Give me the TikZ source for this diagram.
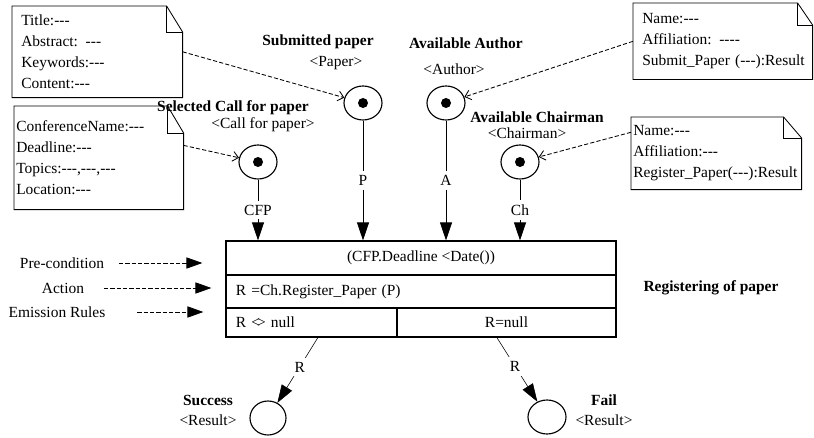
\documentclass[tikz,border=0pt]{standalone}
\usepackage{fontspec}
\setmainfont{Liberation Serif}[Ligatures=TeXOff]
\usetikzlibrary{arrows.meta,shapes.geometric}

\newcommand{\dogear}[3]{%
  \draw[line width=0.6pt] (#1.north west) -- ([xshift=-#2]#1.north east) -- ([yshift=-#3]#1.north east) -- (#1.south east) -- (#1.south west) -- cycle;
  \draw[line width=0.6pt] ([xshift=-#2]#1.north east) |- ([yshift=-#3]#1.north east);
}

\begin{document}
\begin{tikzpicture}[
    x=0.025cm, y=-0.025cm,
    font=\fontsize{11}{15}\selectfont,
    place/.style={draw, ellipse, line width=0.8pt, minimum width=0.95cm, minimum height=0.85cm, inner sep=0pt},
    token/.style={circle, fill, inner sep=0pt, minimum size=0.25cm},
    note/.style={anchor=north west, align=left, inner ysep=0pt},
    cell/.style={draw, line width=0.8pt, minimum height=0.85cm, inner sep=0pt},
    title/.style={font=\fontsize{11}{13}\selectfont\bfseries},
    flow/.style={-{Triangle[length=0.45cm, width=0.3cm]}, line width=0.6pt},
    lbl/.style={fill=white, inner sep=3pt},
    link/.style={-{Straight Barb[length=4pt, width=7pt]}, dash pattern=on 3pt off 1.5pt, line width=0.6pt},
    hint/.style={-{Triangle[length=0.4cm, width=0.28cm]}, dash pattern=on 3pt off 1.5pt, line width=0.6pt}
]
    \useasboundingbox (0,0) rectangle (814,438);

    \node[note, minimum height=2.275cm, text width=3.8cm, inner xsep=0.225cm] (papernote) at (12,6) {Title:---\\\mbox{Abstract: ---}\\Keywords:---\\Content:---};
    \node[note, minimum height=2.575cm, text width=4.125cm, inner xsep=0.05cm] (cfpnote) at (14,106) {ConferenceName:---\\Deadline:---\\\mbox{Topics:---,---,---}\\Location:---};
    \node[note, minimum height=1.9cm, text width=4.025cm, inner xsep=0.225cm] (authornote) at (633,3) {Name:---\\\mbox{Affiliation: ----}\\\mbox{Submit\_Paper (---):Result}};
    \node[note, minimum height=1.8cm, text width=4.15cm, inner xsep=0.05cm] (chairnote) at (631,117) {Name:---\\Affiliation:---\\\mbox{Register\_Paper(---):Result}};
    \dogear{papernote}{0.4cm}{0.65cm}
    \dogear{cfpnote}{0.4cm}{0.675cm}
    \dogear{authornote}{0.375cm}{0.55cm}
    \dogear{chairnote}{0.45cm}{0.525cm}

    \node[place] (cfp) at (258,162) {};
    \node[place] (paper) at (363,103) {};
    \node[place] (author) at (446,103) {};
    \node[place] (chair) at (520,162) {};
    \node[token] (cfpdot) at (cfp) {};
    \node[token] (paperdot) at (paper) {};
    \node[token] (authordot) at (author) {};
    \node[token] (chairdot) at (chair) {};

    \node[title] (cfptitle) at (233,108) {Selected Call for paper};
    \node (cfptype) at (263,125) {<Call for paper>};
    \node[title] (papertitle) at (318,42) {Submitted paper};
    \node (papertype) at (336,63) {<Paper>};
    \node[title] (authortitle) at (466,43) {Available Author};
    \node (authortype) at (454,69) {<Author>};
    \node[title] (chairtitle) at (537,117) {Available Chairman};
    \node (chairtype) at (527,133) {<Chairman>};

    \node[cell, minimum width=9.75cm] (pre) at (421,258) {(CFP.Deadline <Date())};
    \node[cell, minimum height=0.825cm, text width=9.25cm, align=left, inner xsep=0.25cm] (act) at (421,291.5) {R =Ch.Register\_Paper (P)};
    \node[cell, minimum height=0.725cm, text width=3.775cm, align=left, inner xsep=0.25cm] (emitok) at (311.5,322.5) {R \textless\kern-.2em\textgreater{} null};
    \node[cell, minimum width=5.475cm, minimum height=0.725cm] (emitnull) at (506.5,322.5) {R=null};
    \node[title] (transname) at (711,288) {Registering of paper};

    \node (precond) at (62,263) {Pre-condition};
    \node (action) at (63,288) {Action};
    \node (emission) at (57,312) {Emission Rules};
    \draw[hint, shorten <=0.25cm, shorten >=0.575cm] (precond) -- (precond -| pre.west);
    \draw[hint, shorten <=0.375cm, shorten >=0.35cm] (action) -- (action -| act.west);
    \draw[hint, shorten <=0.675cm, shorten >=0.55cm] (emission) -- (emission -| emitok.west);

    \node[place, minimum width=0.9cm] (success) at (268,418) {};
    \node[place] (fail) at (547,417) {};
    \node[title] (successname) at (208,400) {Success};
    \node (successtype) at (208,420) {<Result>};
    \node[title] (failname) at (604,400) {Fail};
    \node (failtype) at (604,420) {<Result>};

    \draw[flow] (cfp) -- node[lbl] {CFP} (cfp |- pre.north);
    \draw[flow] (paper) -- node[lbl] {P} (paper |- pre.north);
    \draw[flow] (author) -- node[lbl] {A} (author |- pre.north);
    \draw[flow] (chair) -- node[lbl] {Ch} (chair |- pre.north);
    \draw[flow, line width=0.4pt] ([xshift=0.16cm]emitok.south) -- node[lbl, pos=0.45] {R} (success);
    \draw[flow, line width=0.4pt] ([xshift=-0.24cm]emitnull.south) -- node[lbl, pos=0.45] {R} (fail);

    \draw[link] (papernote.east) -- (paper);
    \draw[link] ([yshift=0.31cm]cfpnote.east) -- (cfp);
    \draw[link] (authornote.west) -- (author);
    \draw[link] ([yshift=0.525cm]chairnote.west) -- (chair);
\end{tikzpicture}
\end{document}
